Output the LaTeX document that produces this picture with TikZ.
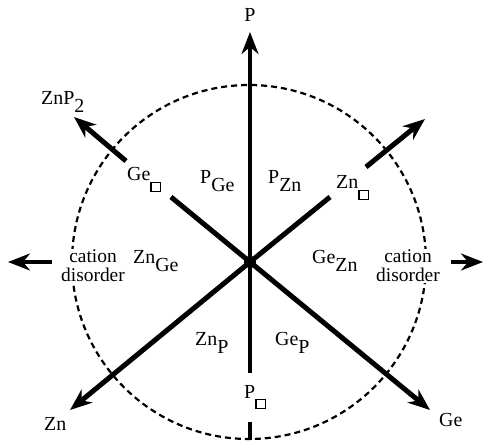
\documentclass[tikz,border=0pt]{standalone}
\usepackage{fontspec}
\setmainfont{Liberation Serif}
\usetikzlibrary{arrows.meta}

% lowered subscript and vacancy box
\newcommand\lo[1]{\raisebox{-8bp}{#1}}
\newcommand\vac{\raisebox{-10bp}{\fboxsep=0pt\fboxrule=1.4bp\fbox{\rule{0pt}{8bp}\rule{8bp}{0pt}}}}

\begin{document}
\begin{tikzpicture}[
    x=1bp, y=-1bp,
    lbl/.style={inner sep=0pt, anchor=base west, font=\fontsize{20}{18}\selectfont},
    note/.style={inner sep=1bp, fill=white, align=center, font=\fontsize{19.5}{19}\selectfont},
    bond/.style={line width=5bp},
    vline/.style={line width=3.3bp},
    arrow/.style={-{Stealth[length=22bp, width=17bp, inset=7bp]}},
    ring/.style={line width=2.2bp, dash pattern=on 6bp off 4bp}
]
    \useasboundingbox (0,0) rectangle (483,442);

    % dashed circle
    \draw[ring] (249,262) circle[radius=177bp];

    % centre
    \node[circle, fill, inner sep=0pt, minimum size=12bp] (O) at (250,262) {};

    % end points
    \coordinate (ptip) at (250,32);
    \coordinate (pend) at (250,373);
    \coordinate (pcut) at (250,422);
    \coordinate (pbot) at (250,440);
    \coordinate (geend) at (171,197);
    \coordinate (znptail) at (126,161);
    \coordinate (znptip) at (74,117);
    \coordinate (getip) at (430,410);
    \coordinate (znend) at (330,197);
    \coordinate (znvtail) at (366,167);
    \coordinate (znvtip) at (425,119);
    \coordinate (zntip) at (70,410);
    \coordinate (ltail) at (52,262);
    \coordinate (ltip) at (8,262);
    \coordinate (rtail) at (451,262);
    \coordinate (rtip) at (483,262);

    % labels
    \node[lbl, anchor=base] (p) at (250,22) {P};
    \node[lbl] (znp2) at (41,105) {ZnP\lo{2}};
    \node[lbl] (gevac) at (127,181) {Ge\vac};
    \node[lbl] (pge) at (200,184) {P\lo{Ge}};
    \node[lbl] (pzn) at (268,184) {P\lo{Zn}};
    \node[lbl] (znvac) at (336,189) {Zn\vac};
    \node[note] (catl) at (93,266) {cation\\disorder};
    \node[note] (catr) at (408,266) {cation\\disorder};
    \node[lbl] (znge) at (133,263) {Zn\lo{Ge}};
    \node[lbl] (gezn) at (312,263) {Ge\lo{Zn}};
    \node[lbl] (znp) at (195,345) {Zn\lo{P}};
    \node[lbl] (gep) at (275,345) {Ge\lo{P}};
    \node[lbl] (pvac) at (244,398) {P\vac};
    \node[lbl] (zn) at (44,430) {Zn};
    \node[lbl] (ge) at (439,426) {Ge};

    % axes
    \draw[vline, arrow] (O.center) -- (ptip);
    \draw[vline] (O.center) -- (pend);
    \draw[vline] (pcut) -- (pbot);
    \draw[bond] (O.center) -- (geend);
    \draw[bond, arrow] (znptail) -- (znptip);
    \draw[bond, arrow] (O.center) -- (getip);
    \draw[bond] (O.center) -- (znend);
    \draw[bond, arrow] (znvtail) -- (znvtip);
    \draw[bond, arrow] (O.center) -- (zntip);
    \draw[vline, arrow] (ltail) -- (ltip);
    \draw[vline, arrow] (rtail) -- (rtip);
\end{tikzpicture}
\end{document}
